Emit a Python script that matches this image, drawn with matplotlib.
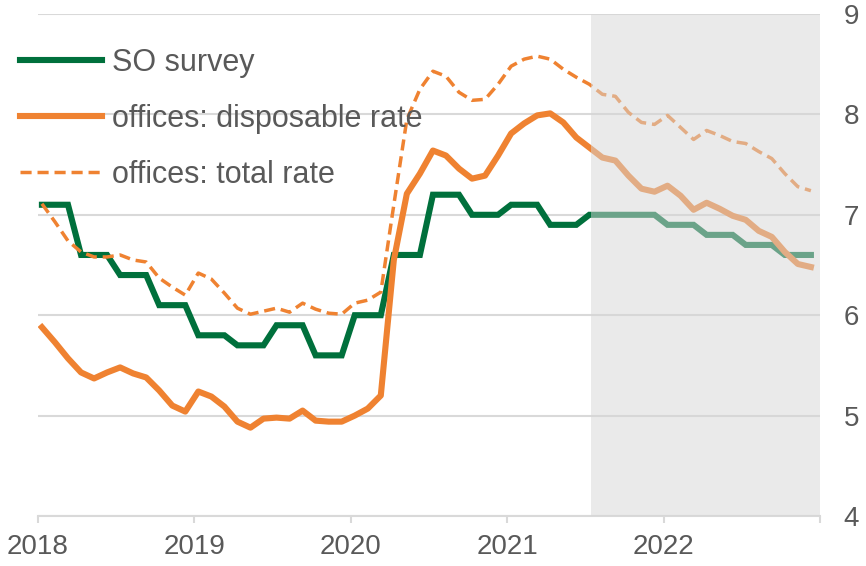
import numpy as np
import matplotlib
matplotlib.use('Agg')
import matplotlib.pyplot as plt

plt.rcParams['font.family'] = ['Liberation Sans', 'DejaVu Sans']

# Monthly data, Jan 2018 - Dec 2022
years = ['2018', '2019', '2020', '2021', '2022']

# SO survey is quarterly, each value holds for three months
so_survey_q = [7.1, 6.6, 6.4, 6.1, 5.8, 5.7, 5.9, 5.6, 6.0, 6.6,
               7.2, 7.0, 7.1, 6.9, 7.0, 7.0, 6.9, 6.8, 6.7, 6.6]

disposable_rate = [5.88, 5.73, 5.57, 5.43, 5.37, 5.43, 5.48, 5.42, 5.38, 5.25,
                   5.10, 5.04, 5.24, 5.19, 5.09, 4.94, 4.88, 4.97, 4.98, 4.97,
                   5.05, 4.95, 4.94, 4.94, 5.00, 5.07, 5.20, 6.55, 7.21, 7.41,
                   7.64, 7.59, 7.46, 7.36, 7.39, 7.59, 7.81, 7.91, 7.99, 8.01,
                   7.92, 7.77, 7.67, 7.57, 7.54, 7.39, 7.26, 7.23, 7.29, 7.19,
                   7.05, 7.12, 7.06, 6.99, 6.95, 6.84, 6.78, 6.63, 6.51, 6.48]

total_rate = [7.11, 6.93, 6.74, 6.63, 6.58, 6.58, 6.60, 6.55, 6.53, 6.37,
              6.28, 6.20, 6.42, 6.36, 6.22, 6.07, 6.01, 6.04, 6.07, 6.03,
              6.12, 6.06, 6.02, 6.01, 6.12, 6.15, 6.23, 7.10, 7.95, 8.25,
              8.43, 8.38, 8.22, 8.14, 8.15, 8.30, 8.48, 8.55, 8.58, 8.55,
              8.45, 8.37, 8.30, 8.20, 8.18, 8.02, 7.92, 7.90, 7.99, 7.87,
              7.75, 7.84, 7.79, 7.73, 7.71, 7.63, 7.56, 7.41, 7.28, 7.24]

forecast_start = 42  # Jul 2021, start of shaded forecast period

green = '#00703c'
orange = '#ef8231'
grey_text = '#595959'
grid_col = '#d9d9d9'

so_survey = np.repeat(so_survey_q, 3)
months = np.arange(len(disposable_rate)) + 0.3

fig = plt.figure(figsize=(8.66, 5.66), dpi=100)
ax = fig.add_axes([0.0439, 0.0883, 0.9030, 0.8870])

ax.plot(months, so_survey, color=green, lw=4.4, label='SO survey',
        solid_joinstyle='miter', zorder=3)
ax.plot(months, disposable_rate, color=orange, lw=4.4,
        label='offices: disposable rate', solid_joinstyle='round', zorder=3)
ax.plot(months, total_rate, color=orange, lw=2.5, ls=(0, (3.2, 1.7)),
        label='offices: total rate', zorder=3)

# forecast period: translucent grey over the lines
ax.axvspan(forecast_start + 0.4, 60, color='#d7d7d7', alpha=0.5, lw=0, zorder=5)

ax.set_xlim(0, 60)
ax.set_ylim(4, 9)
ax.set_xticks(np.arange(0, 61, 12))
ax.set_xticklabels(years + [''])
ax.set_yticks(np.arange(4, 10))
ax.yaxis.tick_right()
ax.grid(axis='y', color=grid_col, lw=1.5)
ax.set_axisbelow(True)

for side in ['top', 'left', 'right']:
    ax.spines[side].set_visible(False)
ax.spines['bottom'].set_color(grid_col)
ax.spines['bottom'].set_linewidth(1.5)

ax.tick_params(axis='x', length=5, width=1.5, color=grid_col, labelsize=20,
               labelcolor=grey_text, pad=8)
ax.tick_params(axis='y', length=0, labelsize=20, labelcolor=grey_text, pad=17)

leg = ax.legend(loc='upper left', bbox_to_anchor=(0.023, 0.916),
                bbox_transform=fig.transFigure, frameon=False, fontsize=22,
                borderpad=0, borderaxespad=0, handlelength=2.7,
                handletextpad=0.3, labelspacing=0.86)
for t in leg.get_texts():
    t.set_color(grey_text)

fig.savefig('out.png', dpi=100)
